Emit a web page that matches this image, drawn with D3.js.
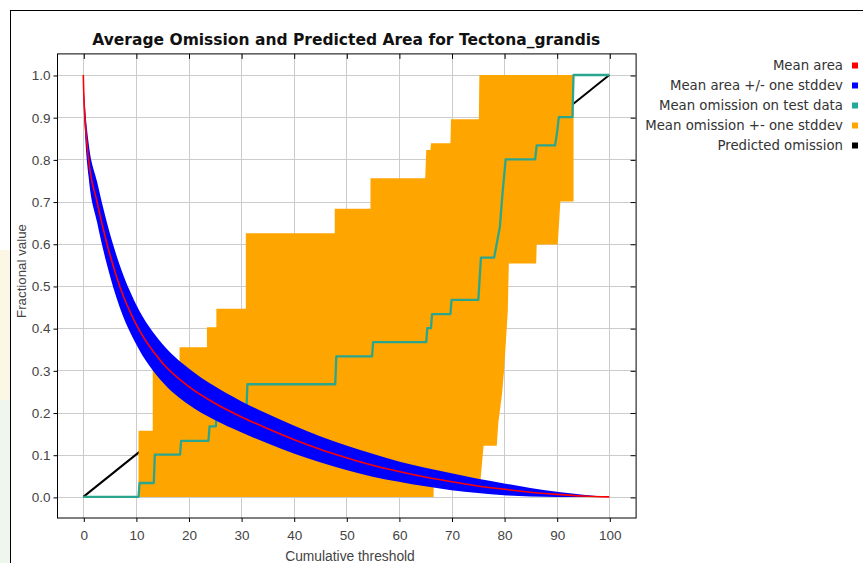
<!DOCTYPE html>
<html>
<head>
<meta charset="utf-8">
<script src="https://cdn.jsdelivr.net/npm/d3@7"></script>
<style>
  html, body { margin: 0; padding: 0; background: #fff; }
  svg { display: block; }
</style>
</head>
<body>
<div id="chart"></div>
<script>
// ---- data ----
const chartTitle = 'Average Omission and Predicted Area for Tectona_grandis';
const xTicks = [0, 10, 20, 30, 40, 50, 60, 70, 80, 90, 100];
const yTicks = [0, 0.1, 0.2, 0.3, 0.4, 0.5, 0.6, 0.7, 0.8, 0.9, 1.0];

// mean fractional predicted area and its stddev
const areaX    = [0, 0.1, 0.3, 1, 2.6, 4.5, 6.9, 10, 15, 20, 25, 30, 35, 40, 45, 50, 55, 60, 65, 70, 75, 80, 85, 90, 95, 100];
const areaMean = [1.0, 0.95, 0.9, 0.8, 0.7, 0.6, 0.5, 0.41, 0.318, 0.262, 0.222, 0.19, 0.162, 0.136, 0.113, 0.093, 0.075, 0.06, 0.047, 0.036, 0.026, 0.018, 0.011, 0.006, 0.002, 0];
const areaSd   = [0, 0.02, 0.03, 0.04, 0.048, 0.05, 0.05, 0.047, 0.045, 0.043, 0.04, 0.037, 0.035, 0.033, 0.031, 0.029, 0.027, 0.024, 0.022, 0.02, 0.017, 0.014, 0.01, 0.006, 0.003, 0];

// mean omission on test data (step line)
const omission = [
  [0, 0], [10.5, 0], [10.7, 0.033], [13.4, 0.033], [13.6, 0.1], [18.4, 0.1], [18.6, 0.133],
  [23.8, 0.133], [24, 0.167], [25.2, 0.167], [25.4, 0.2], [31.0, 0.2], [31.2, 0.267],
  [47.9, 0.267], [48.1, 0.333], [54.9, 0.333], [55.1, 0.367], [65.2, 0.367], [65.4, 0.4],
  [66.1, 0.4], [66.3, 0.433], [69.8, 0.433], [70.0, 0.467], [75.1, 0.467], [75.6, 0.567],
  [78.1, 0.567], [78.6, 0.6], [79.2, 0.64], [79.7, 0.72], [80.3, 0.8], [85.9, 0.8],
  [86.2, 0.833], [89.7, 0.833], [90.1, 0.867], [90.4, 0.9], [93.0, 0.9], [93.2, 1.0], [100, 1.0]
];

// mean omission +- one stddev: upper edge (left to right), lower edge (right to left)
const omissionUpper = [
  [10.5, 0], [10.5, 0.157], [13.2, 0.157], [13.2, 0.30], [18.3, 0.30], [18.3, 0.355],
  [23.5, 0.355], [23.5, 0.402], [25.3, 0.402], [25.3, 0.446], [30.9, 0.446], [30.9, 0.625],
  [47.8, 0.625], [47.8, 0.683], [54.6, 0.683], [54.6, 0.755], [65.0, 0.755], [65.2, 0.822],
  [66.0, 0.822], [66.1, 0.838], [69.8, 0.838], [69.9, 0.895], [75.2, 0.895], [75.3, 1.0], [93.2, 1.0]
];
const omissionLower = [
  [93.2, 0.70], [90.7, 0.70], [90.2, 0.598], [86.2, 0.598], [86.1, 0.553], [80.9, 0.553],
  [80.7, 0.44], [80.0, 0.30], [79.6, 0.244], [78.9, 0.176], [78.6, 0.121], [76.1, 0.121],
  [75.5, 0.038], [75.4, 0.033], [66.6, 0.033], [66.6, 0], [10.5, 0]
];

// predicted omission
const predicted = [[0, 0], [100, 1]];

const legendLabels = ['Mean area', 'Mean area +/- one stddev', 'Mean omission on test data', 'Mean omission +- one stddev', 'Predicted omission'];
const legendColors = ['#ff0000', '#0000ff', '#20aa9a', '#ffa500', '#000000'];

// ---- layout ----
const width = 863, height = 563;
const svg = d3.select('#chart').append('svg')
    .attr('width', width)
    .attr('height', height);

// faint page background peeking out at the left edge
svg.append('rect').attr('x', 0).attr('y', 250).attr('width', 10).attr('height', 150).attr('fill', '#fcf7e4');
svg.append('rect').attr('x', 0).attr('y', 400).attr('width', 10).attr('height', 163).attr('fill', '#eff6ed');

// outer panel border
svg.append('rect')
    .attr('x', 10.5).attr('y', 10.5)
    .attr('width', 900).attr('height', 600)
    .attr('fill', '#fff')
    .attr('stroke', '#000');

const x = d3.scaleLinear().domain([-5, 105]).range([57, 635.6]);
const y = d3.scaleLinear().domain([-0.05, 1.05]).range([518, 53.9]);
const [plotLeft, plotRight] = x.range();
const [plotBottom, plotTop] = y.range();

svg.append('clipPath').attr('id', 'plotClip')
  .append('rect')
    .attr('x', plotLeft).attr('y', plotTop)
    .attr('width', plotRight - plotLeft).attr('height', plotBottom - plotTop);

// gridlines
const grid = svg.append('g').attr('stroke', '#cccccc').attr('stroke-width', 1);
grid.selectAll('.gx').data(xTicks).join('line')
    .attr('x1', d => Math.round(x(d)) + 0.5).attr('x2', d => Math.round(x(d)) + 0.5)
    .attr('y1', plotTop).attr('y2', plotBottom);
grid.selectAll('.gy').data(yTicks).join('line')
    .attr('y1', d => Math.round(y(d)) + 0.5).attr('y2', d => Math.round(y(d)) + 0.5)
    .attr('x1', plotLeft).attr('x2', plotRight);

const plot = svg.append('g').attr('clip-path', 'url(#plotClip)');

// predicted omission (drawn under everything else)
plot.append('path')
    .datum(predicted)
    .attr('d', d3.line().x(d => x(d[0])).y(d => y(d[1])))
    .attr('fill', 'none')
    .attr('stroke', '#000')
    .attr('stroke-width', 2);

// omission +- stddev band
const bandLine = d3.line().x(d => x(d[0])).y(d => y(d[1]));
plot.append('path')
    .attr('d', bandLine(omissionUpper.concat(omissionLower)) + 'Z')
    .attr('fill', '#ffa500');

// mean omission on test data
plot.append('path')
    .datum(omission)
    .attr('d', d3.line().x(d => x(d[0])).y(d => y(d[1])))
    .attr('fill', 'none')
    .attr('stroke', '#2aa68e')
    .attr('stroke-width', 2.3)
    .attr('stroke-linejoin', 'round');

// mean area +/- stddev
const areaRows = areaX.map((v, i) => ({ x: v, m: areaMean[i], s: areaSd[i] }));
plot.append('path')
    .datum(areaRows)
    .attr('d', d3.area()
        .curve(d3.curveMonotoneX)
        .x(d => x(d.x))
        .y0(d => y(Math.max(0, d.m - d.s)))
        .y1(d => y(Math.min(1, d.m + d.s))))
    .attr('fill', '#0000ff');

// mean area
plot.append('path')
    .datum(areaRows)
    .attr('d', d3.line().curve(d3.curveMonotoneX).x(d => x(d.x)).y(d => y(d.m)))
    .attr('fill', 'none')
    .attr('stroke', '#ff0000')
    .attr('stroke-width', 1.6);

// plot frame
svg.append('rect')
    .attr('x', plotLeft + 0.5).attr('y', plotTop)
    .attr('width', plotRight - plotLeft).attr('height', plotBottom - plotTop)
    .attr('fill', 'none')
    .attr('stroke', '#000');

// axes
const tickFont = '"Liberation Sans", Arial, sans-serif';
const legendFont = '"DejaVu Sans", sans-serif';
const xAxis = svg.append('g')
    .attr('transform', `translate(0.5,${plotBottom})`)
    .call(d3.axisBottom(x).tickValues(xTicks).tickSize(4).tickPadding(8).tickSizeOuter(0));
const yAxis = svg.append('g')
    .attr('transform', `translate(${plotLeft + 0.5},0.5)`)
    .call(d3.axisLeft(y).tickValues(yTicks).tickFormat(d3.format('.1f')).tickSize(4).tickPadding(3).tickSizeOuter(0));
const topAxis = svg.append('g')
    .attr('transform', `translate(0.5,${plotTop})`)
    .call(d3.axisTop(x).tickValues(xTicks).tickSize(-5).tickFormat('').tickSizeOuter(0));
const rightAxis = svg.append('g')
    .attr('transform', `translate(${plotRight},0.5)`)
    .call(d3.axisRight(y).tickValues(yTicks).tickSize(-5).tickFormat('').tickSizeOuter(0));

[xAxis, yAxis, topAxis, rightAxis].forEach(a => {
    a.select('.domain').remove();
    a.selectAll('line').attr('stroke', '#000');
    a.selectAll('text')
        .attr('font-family', tickFont)
        .attr('font-size', '13.5px')
        .attr('fill', '#444');
});

// title and axis labels
svg.append('text')
    .attr('x', (plotLeft + plotRight) / 2)
    .attr('y', 45)
    .attr('text-anchor', 'middle')
    .attr('font-family', '"DejaVu Sans", sans-serif')
    .attr('font-weight', 'bold')
    .attr('font-size', '15.5px')
    .attr('fill', '#111')
    .text(chartTitle);

svg.append('text')
    .attr('x', 350)
    .attr('y', 561)
    .attr('text-anchor', 'middle')
    .attr('font-family', tickFont)
    .attr('font-size', '13.8px')
    .attr('fill', '#444')
    .text('Cumulative threshold');

svg.append('text')
    .attr('transform', 'translate(26,271) rotate(-90)')
    .attr('text-anchor', 'middle')
    .attr('font-family', tickFont)
    .attr('font-size', '13.3px')
    .attr('fill', '#444')
    .text('Fractional value');

// legend
const legend = svg.append('g');
const rows = legend.selectAll('g').data(legendLabels).join('g')
    .attr('transform', (d, i) => `translate(0,${65.5 + i * 20})`);
rows.append('text')
    .attr('x', 843)
    .attr('dy', '0.35em')
    .attr('text-anchor', 'end')
    .attr('font-family', legendFont)
    .attr('font-size', '13.3px')
    .attr('fill', '#333')
    .text(d => d);
rows.append('rect')
    .attr('x', 852)
    .attr('y', -3)
    .attr('width', 6)
    .attr('height', 6)
    .attr('fill', (d, i) => legendColors[i]);
</script>
</body>
</html>
